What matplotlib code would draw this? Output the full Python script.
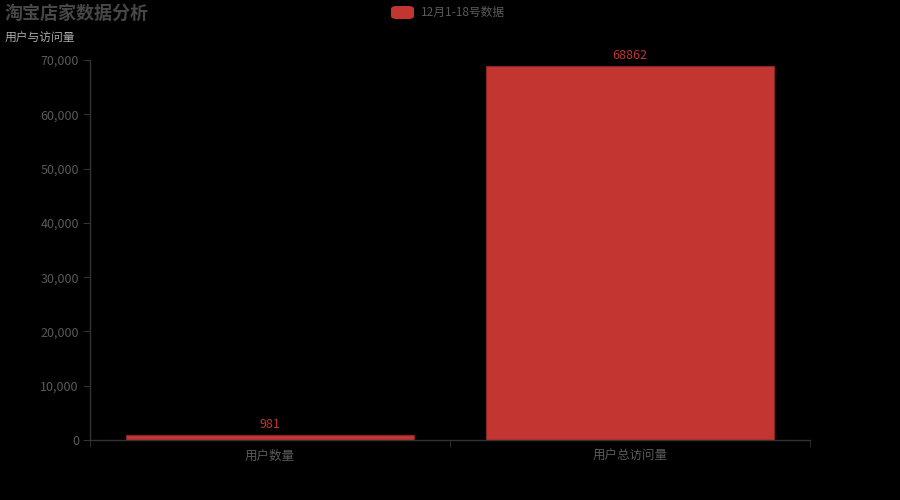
import matplotlib.pyplot as plt
from matplotlib.patches import FancyBboxPatch
from matplotlib.ticker import FuncFormatter

plt.rcParams['font.family'] = ['Noto Sans CJK SC', 'DejaVu Sans']

categories = ['用户数量', '用户总访问量']
values = [981, 68862]
series_name = '12月1-18号数据'
y_ticks = [0, 10000, 20000, 30000, 40000, 50000, 60000, 70000]

bar_color = '#c23531'
text_gray = '#5a5a5a'
axis_gray = '#333333'

fig = plt.figure(figsize=(9, 5), dpi=100, facecolor='black')
ax = fig.add_axes([0.1, 0.12, 0.8, 0.76], facecolor='black')

x = list(range(len(categories)))
bars = ax.bar(x, values, width=0.8, color=bar_color, edgecolor='#8a2522', linewidth=0.8)
for xi, v in zip(x, values):
    ax.annotate(str(v), (xi, v), xytext=(0, 3), textcoords='offset points',
                ha='center', va='bottom', color=bar_color, fontsize=9)

ax.set_xlim(-0.5, len(categories) - 0.5)
ax.set_ylim(0, 70000)
ax.set_yticks(y_ticks)
ax.yaxis.set_major_formatter(FuncFormatter(lambda v, p: f'{int(v):,}'))
ax.set_xticks(x)
ax.set_xticklabels(categories)
ax.set_xticks([-0.5, 0.5, 1.5], minor=True)
ax.tick_params(axis='x', which='major', length=0, pad=7, colors=text_gray, labelsize=9)
ax.tick_params(axis='x', which='minor', length=5, color=axis_gray, direction='out')
ax.tick_params(axis='y', length=5, color=axis_gray, colors=text_gray, labelsize=9, pad=3)
for sp in ['top', 'right']:
    ax.spines[sp].set_visible(False)
for sp in ['left', 'bottom']:
    ax.spines[sp].set_color(axis_gray)
    ax.spines[sp].set_linewidth(1)

fig.text(5 / 900, 1 - 13 / 500, '淘宝店家数据分析', fontsize=13, fontweight='bold',
         color='#464646', ha='left', va='center')
fig.text(5 / 900, 1 - 38 / 500, '用户与访问量', fontsize=8.5, color='#aaaaaa',
         ha='left', va='center')

# legend
fig.patches.append(FancyBboxPatch((391 / 900, 1 - 19 / 500), 23 / 900, 13 / 500,
                                  boxstyle='round,pad=0,rounding_size=0.006',
                                  transform=fig.transFigure, facecolor=bar_color,
                                  edgecolor='none'))
fig.text(421 / 900, 1 - 12 / 500, series_name, fontsize=8.5, color=text_gray,
         ha='left', va='center')

fig.savefig('out.png', dpi=100, facecolor='black')
